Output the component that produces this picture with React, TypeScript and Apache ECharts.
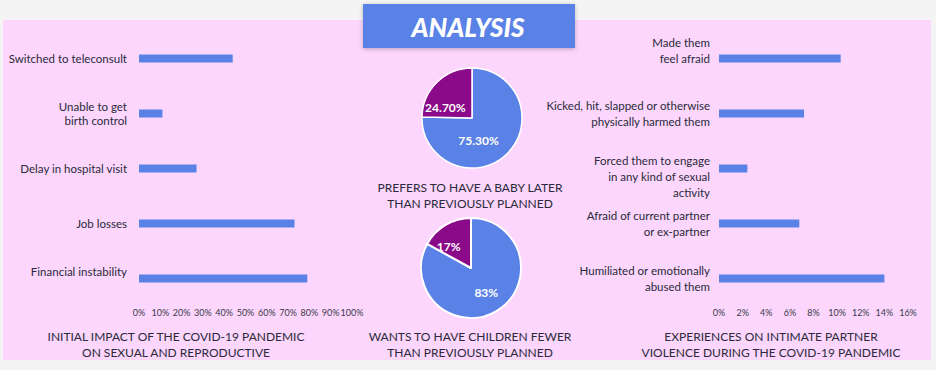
import React, { useEffect, useRef } from "react";
import * as echarts from "echarts";

const impactCategories = [
  "Switched to teleconsult",
  "Unable to get\nbirth control",
  "Delay in hospital visit",
  "Job losses",
  "Financial instability",
];
const impactValues = [44, 11, 27, 73, 79];

const violenceCategories = [
  "Made them\nfeel afraid",
  "Kicked, hit, slapped or otherwise\nphysically harmed them",
  "Forced them to engage\nin any kind of sexual\nactivity",
  "Afraid of current partner\nor ex-partner",
  "Humiliated or emotionally\nabused them",
];
const violenceValues = [10.3, 7.2, 2.4, 6.8, 14];

const babyLaterNames = ["Prefers later", "Does not"];
const babyLaterValues = [75.3, 24.7];

const fewerChildrenNames = ["Wants fewer", "Does not"];
const fewerChildrenValues = [83, 17];

const titleText = "ANALYSIS";
const captionImpact = "INITIAL IMPACT OF THE COVID-19 PANDEMIC\nON SEXUAL AND REPRODUCTIVE";
const captionBaby = "PREFERS TO HAVE A BABY LATER\nTHAN PREVIOUSLY PLANNED";
const captionFewer = "WANTS TO HAVE CHILDREN FEWER\nTHAN PREVIOUSLY PLANNED";
const captionViolence = "EXPERIENCES ON INTIMATE PARTNER\nVIOLENCE DURING THE COVID-19 PANDEMIC";

const BLUE = "#5a82e6";
const PURPLE = "#8a0a8a";
const PINK = "#fcd6fc";
const TEXT = "#2a2a3a";
const FONT = "Lato, 'Open Sans', sans-serif";

export default function App() {
  const ref = useRef<HTMLDivElement>(null);
  useEffect(() => {
    if (!ref.current) return;
    const chart = echarts.init(ref.current, null, { renderer: "svg" });

    const captionStyle = {
      fill: TEXT,
      font: `12px ${FONT}`,
      textAlign: "center",
      textVerticalAlign: "top",
      lineHeight: 16,
    };

    const option: any = {
      animation: false,
      backgroundColor: "#f4f4f4",
      textStyle: { fontFamily: FONT },
      graphic: [
        {
          type: "rect",
          shape: { x: 3, y: 20, width: 928, height: 340 },
          style: { fill: PINK },
          z: -10,
        },
        {
          type: "rect",
          shape: { x: 363, y: 4, width: 212, height: 44 },
          style: {
            fill: BLUE,
            shadowBlur: 4,
            shadowColor: "rgba(0,0,0,0.25)",
            shadowOffsetY: 1,
          },
          z: 10,
        },
        {
          type: "text",
          x: 468,
          y: 27,
          z: 11,
          style: {
            text: titleText,
            fill: "#ffffff",
            font: `italic 900 26px ${FONT}`,
            textAlign: "center",
            textVerticalAlign: "middle",
          },
        },
        { type: "text", x: 176, y: 328, style: { ...captionStyle, text: captionImpact } },
        { type: "text", x: 470, y: 179, style: { ...captionStyle, text: captionBaby } },
        { type: "text", x: 470, y: 328, style: { ...captionStyle, text: captionFewer } },
        { type: "text", x: 771, y: 328, style: { ...captionStyle, text: captionViolence } },
      ],
      grid: [
        { left: 139, top: 31, width: 213, height: 275 },
        { left: 719, top: 31, width: 189, height: 275 },
      ],
      xAxis: [
        {
          type: "value",
          gridIndex: 0,
          min: 0,
          max: 100,
          interval: 10,
          axisLine: { show: false },
          axisTick: { show: false },
          splitLine: { show: false },
          axisLabel: { formatter: "{value}%", color: "#3a3a4a", fontSize: 9, margin: 2, fontFamily: FONT },
        },
        {
          type: "value",
          gridIndex: 1,
          min: 0,
          max: 16,
          interval: 2,
          axisLine: { show: false },
          axisTick: { show: false },
          splitLine: { show: false },
          axisLabel: { formatter: "{value}%", color: "#3a3a4a", fontSize: 9, margin: 2, fontFamily: FONT },
        },
      ],
      yAxis: [
        {
          type: "category",
          gridIndex: 0,
          inverse: true,
          data: impactCategories,
          axisLine: { show: false },
          axisTick: { show: false },
          axisLabel: {
            color: TEXT,
            fontSize: 11.5,
            lineHeight: 14,
            margin: 12,
            fontFamily: FONT,
            formatter: (v: string, i: number) => (i === 4 ? v + "\n " : v),
          },
        },
        {
          type: "category",
          gridIndex: 1,
          inverse: true,
          data: violenceCategories,
          axisLine: { show: false },
          axisTick: { show: false },
          axisLabel: {
            color: TEXT,
            fontSize: 11.5,
            lineHeight: 16,
            margin: 9,
            fontFamily: FONT,
            formatter: (v: string, i: number) =>
              i === 0 ? v + "\n " : i === 2 ? " \n" + v : v,
          },
        },
      ],
      series: [
        {
          type: "bar",
          xAxisIndex: 0,
          yAxisIndex: 0,
          data: impactValues,
          barWidth: 8,
          itemStyle: { color: BLUE },
        },
        {
          type: "bar",
          xAxisIndex: 1,
          yAxisIndex: 1,
          data: violenceValues,
          barWidth: 8,
          itemStyle: { color: BLUE },
        },
        {
          type: "pie",
          center: [472, 118],
          radius: 50,
          startAngle: 90,
          data: babyLaterNames.map((n, i) => ({
            name: n,
            value: babyLaterValues[i],
            itemStyle: { color: i === 0 ? BLUE : PURPLE },
          })),
          itemStyle: { borderColor: "#ffffff", borderWidth: 1.5 },
          label: {
            position: "inside",
            formatter: (p: any) => p.value.toFixed(2) + "%",
            color: "#ffffff",
            fontWeight: "bold",
            fontSize: 12,
            fontFamily: FONT,
          },
          labelLayout: (p: any) => (p.dataIndex === 0 ? { dx: -13, dy: 3 } : { dx: -7, dy: 9 }),
          labelLine: { show: false },
          emphasis: { disabled: true },
        },
        {
          type: "pie",
          center: [471, 268],
          radius: 50,
          startAngle: 90,
          data: fewerChildrenNames.map((n, i) => ({
            name: n,
            value: fewerChildrenValues[i],
            itemStyle: { color: i === 0 ? BLUE : PURPLE },
          })),
          itemStyle: { borderColor: "#ffffff", borderWidth: 2 },
          label: {
            position: "inside",
            formatter: (p: any) => p.value + "%",
            color: "#ffffff",
            fontWeight: "bold",
            fontSize: 12,
            fontFamily: FONT,
          },
          labelLayout: (p: any) => (p.dataIndex === 0 ? { dx: 1, dy: 0 } : { dx: -8, dy: 3 }),
          labelLine: { show: false },
          emphasis: { disabled: true },
        },
      ],
    };
    chart.setOption(option);
    return () => chart.dispose();
  }, []);
  return (
    <div
      ref={ref}
      style={{ position: "fixed", left: 0, top: 0, width: 936, height: 370 }}
    />
  );
}
